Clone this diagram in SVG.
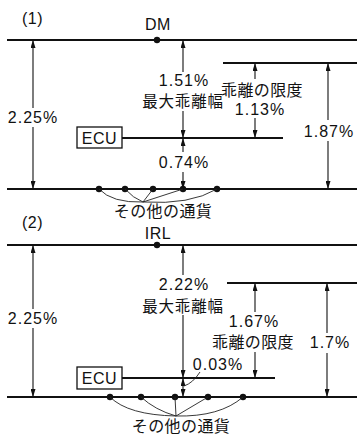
<svg xmlns="http://www.w3.org/2000/svg" width="357" height="438" viewBox="0 0 357 438">
<defs>
<style>
.bg{fill:#ffffff}
.main{stroke:#111;stroke-width:2;fill:none}
.lvl{stroke:#111;stroke-width:1.8;fill:none}
.arr{stroke:#111;stroke-width:1.1;fill:none}
.thin{stroke:#222;stroke-width:0.9;fill:none}
.dot{fill:#111}
.box{fill:#fff;stroke:#111;stroke-width:1.3}
.t{font-family:"Liberation Sans","Noto Sans CJK JP",sans-serif;font-size:16px;fill:#111;letter-spacing:1px}
.s{font-family:"Liberation Sans","Noto Sans CJK JP",sans-serif;font-size:16px;fill:#111;letter-spacing:0.5px}
.j{font-family:"Noto Sans CJK JP","Liberation Sans",sans-serif;font-size:16px;fill:#111;letter-spacing:0.4px}
.js{font-size:15.5px;letter-spacing:0.8px}
.m{text-anchor:middle}
</style>
<marker id="ah" viewBox="0 0 8 5" refX="8" refY="2.5" markerWidth="8" markerHeight="5" orient="auto" markerUnits="userSpaceOnUse">
<path d="M0,0 L8,2.5 L0,5 z" fill="#111"/>
</marker>
</defs>
<rect class="bg" x="0" y="0" width="357" height="438"/>

<g id="panel1">
<text class="s" x="22" y="24">(1)</text>
<g id="p1-dm"><line class="main" x1="7" y1="40" x2="357" y2="40"/><circle class="dot" cx="157" cy="40" r="3.2"/><text class="s m" x="158" y="30">DM</text></g>
<g id="p1-limit"><line class="lvl" x1="223" y1="63" x2="357" y2="63"/></g>
<g id="p1-ecu"><rect class="box" x="77" y="127" width="45" height="21"/><text class="s m" x="99.5" y="143.5">ECU</text><line class="lvl" x1="122" y1="138" x2="283" y2="138"/></g>
<g id="p1-others"><line class="main" x1="7" y1="189" x2="357" y2="189"/>
<circle class="dot" cx="99" cy="189" r="3.2"/><circle class="dot" cx="125" cy="189" r="3.2"/><circle class="dot" cx="153" cy="189" r="3.2"/><circle class="dot" cx="183" cy="189" r="3.2"/><circle class="dot" cx="217" cy="189" r="3.2"/>
<text class="j m" x="163" y="217">その他の通貨</text></g>
<g id="p1-labels">
<text class="t m" x="33" y="123">2.25%</text>
<text class="t m" x="184" y="86">1.51%</text>
<text class="j js m" x="183" y="107">最大乖離幅</text>
<text class="j m" x="262" y="96">乖離の限度</text>
<text class="t m" x="260" y="115">1.13%</text>
<text class="t m" x="329" y="137">1.87%</text>
<text class="t m" x="184" y="168">0.74%</text>
</g>
</g>

<g id="panel2">
<text class="s" x="22" y="228">(2)</text>
<g id="p2-irl"><line class="main" x1="7" y1="245" x2="357" y2="245"/><circle class="dot" cx="157" cy="245" r="3.2"/><text class="s m" x="158" y="239">IRL</text></g>
<g id="p2-limit"><line class="lvl" x1="227" y1="283" x2="357" y2="283"/></g>
<g id="p2-ecu"><rect class="box" x="77" y="367" width="45" height="22"/><text class="s m" x="99.5" y="384">ECU</text><line class="lvl" x1="122" y1="378" x2="275" y2="378"/></g>
<g id="p2-others"><line class="main" x1="7" y1="397" x2="357" y2="397"/>
<circle class="dot" cx="110" cy="397" r="3.2"/><circle class="dot" cx="141" cy="397" r="3.2"/><circle class="dot" cx="175" cy="397" r="3.2"/><circle class="dot" cx="208" cy="397" r="3.2"/><circle class="dot" cx="243" cy="397" r="3.2"/>
<text class="j m" x="181" y="432">その他の通貨</text></g>
<g id="p2-labels">
<text class="t m" x="33" y="324">2.25%</text>
<text class="t m" x="184" y="290">2.22%</text>
<text class="j js m" x="183" y="311.5">最大乖離幅</text>
<text class="t m" x="254" y="327">1.67%</text>
<text class="j m" x="253" y="348">乖離の限度</text>
<text class="t m" x="330" y="348">1.7%</text>
<text class="t m" x="218" y="370">0.03%</text>
</g>
</g>

<g id="connectors">
<!-- panel 1 -->
<path class="arr" d="M33 108 V40" marker-end="url(#ah)"/>
<path class="arr" d="M33 127 V189" marker-end="url(#ah)"/>
<path class="arr" d="M183 72 V40" marker-end="url(#ah)"/>
<path class="arr" d="M183 111 V138" marker-end="url(#ah)"/>
<path class="arr" d="M183 152 V138" marker-end="url(#ah)"/>
<path class="arr" d="M183 172 V189" marker-end="url(#ah)"/>
<path class="arr" d="M255 79 V63" marker-end="url(#ah)"/>
<path class="arr" d="M255 118 V138" marker-end="url(#ah)"/>
<path class="arr" d="M328 120 V63" marker-end="url(#ah)"/>
<path class="arr" d="M328 141 V189" marker-end="url(#ah)"/>
<path class="thin" d="M99 189 Q112 203 143 202"/>
<path class="thin" d="M125 189 Q133 198 143 202"/>
<path class="thin" d="M153 189 L143 202"/>
<path class="thin" d="M183 189 L143 202"/>
<path class="thin" d="M217 189 Q190 205 143 202"/>
<!-- panel 2 -->
<path class="arr" d="M33 309 V245" marker-end="url(#ah)"/>
<path class="arr" d="M33 328 V397" marker-end="url(#ah)"/>
<path class="arr" d="M183 275 V245" marker-end="url(#ah)"/>
<path class="arr" d="M183 315 V378" marker-end="url(#ah)"/>
<path class="arr" d="M183 388 V378" marker-end="url(#ah)"/>
<path class="arr" d="M183 388 V397" marker-end="url(#ah)"/>
<path class="arr" d="M255 312 V283" marker-end="url(#ah)"/>
<path class="arr" d="M255 352 V378" marker-end="url(#ah)"/>
<path class="arr" d="M327 333 V283" marker-end="url(#ah)"/>
<path class="arr" d="M327 353 V397" marker-end="url(#ah)"/>
<path class="thin" d="M200 372 Q193 383 184 386"/>
<path class="thin" d="M110 397 Q128 415 176 416"/>
<path class="thin" d="M141 397 Q155 410 176 416"/>
<path class="thin" d="M175 397 L176 416"/>
<path class="thin" d="M208 397 L176 416"/>
<path class="thin" d="M243 397 Q220 417 176 416"/>
</g>
</svg>
